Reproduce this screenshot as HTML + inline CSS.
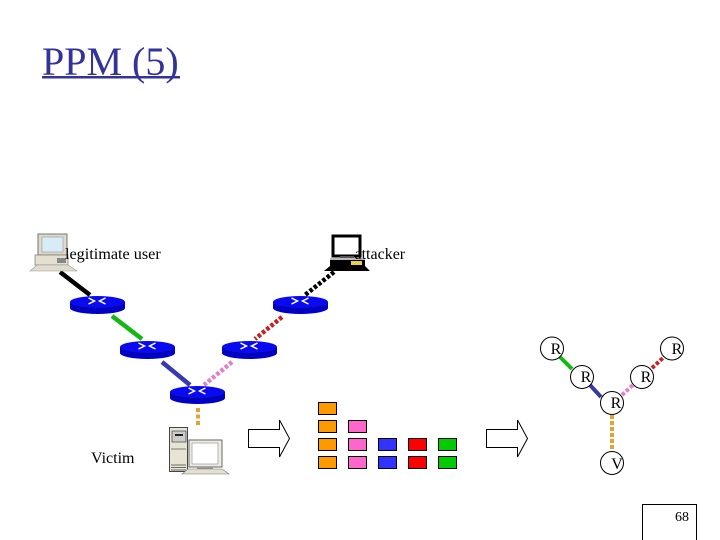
<!DOCTYPE html>
<html>
<head>
<meta charset="utf-8">
<style>
html,body{margin:0;padding:0;background:#fff;width:720px;height:540px;overflow:hidden}
svg{display:block}
text{font-family:"Liberation Serif",serif;fill:#000}
</style>
</head>
<body>
<svg width="720" height="540" viewBox="0 0 720 540" xmlns="http://www.w3.org/2000/svg">
<defs>
<g id="router">
<ellipse cx="0" cy="3" rx="27.5" ry="6" fill="#0000c8"/>
<rect x="-27.5" y="-3" width="55" height="6" fill="#0000c8"/>
<ellipse cx="0" cy="-3" rx="27.5" ry="6" fill="#0a0af0"/>
<path d="M-27 0 Q0 8 27 0" fill="none" stroke="#00009a" stroke-width="1"/>
<path d="M-9 -7 L-3 -4 L-9 -1 M8 -7 L2 -4 L8 -1" fill="none" stroke="#fff" stroke-width="1.5"/>
</g>
</defs>

<!-- title -->
<text x="42" y="75" font-size="40" style="fill:#333399">PPM (5)</text>
<rect x="42" y="76" width="138" height="2.5" fill="#333399"/>

<!-- links -->
<line x1="60" y1="272" x2="90" y2="295" stroke="#000" stroke-width="4.5"/>
<line x1="112" y1="316" x2="142" y2="339" stroke="#14b814" stroke-width="4.5"/>
<line x1="162" y1="362" x2="190" y2="385" stroke="#3838b0" stroke-width="4.5"/>
<line x1="334" y1="272" x2="305" y2="295" stroke="#000" stroke-width="4.5" stroke-dasharray="3.5 2"/>
<line x1="282" y1="317" x2="255" y2="339" stroke="#c82020" stroke-width="4.5" stroke-dasharray="3.5 2"/>
<line x1="232" y1="362" x2="204" y2="385" stroke="#e080c8" stroke-width="4.5" stroke-dasharray="3.5 2"/>
<line x1="198" y1="408" x2="198" y2="427" stroke="#e8a030" stroke-width="4" stroke-dasharray="4 2.5"/>

<!-- routers -->
<use href="#router" x="97.5" y="305"/>
<use href="#router" x="147.5" y="350"/>
<use href="#router" x="300.5" y="305"/>
<use href="#router" x="249.5" y="350"/>
<use href="#router" x="197.5" y="395"/>

<!-- legit computer -->
<rect x="38" y="234" width="29" height="21" fill="#ddd8c8" stroke="#777" stroke-width="1"/>
<rect x="42" y="237" width="21" height="15" fill="#d8ecf8" stroke="#888" stroke-width="0.5"/>
<rect x="35" y="255" width="33" height="10" fill="#e4e0d0" stroke="#777" stroke-width="0.7"/>
<rect x="57" y="258" width="9" height="5" fill="#888"/>
<path d="M37 265 L68 265 L77 271 L30 271 Z" fill="#e0dccc" stroke="#999" stroke-width="0.6"/>

<!-- attacker computer -->
<rect x="333" y="236" width="27" height="20" fill="#fff" stroke="#000" stroke-width="3"/>
<rect x="340" y="256" width="14" height="2" fill="#555"/>
<rect x="330" y="258" width="35" height="12" fill="#000"/>
<rect x="330" y="258" width="35" height="2" fill="#bbb"/>
<rect x="351" y="261" width="11" height="4" fill="#e8d040"/>
<path d="M330 266 L365 266 L370 271 L324 271 Z" fill="#000"/>

<!-- victim computer -->
<rect x="169.5" y="427.5" width="18" height="44" fill="#e8e4d4" stroke="#444" stroke-width="1"/>
<rect x="172" y="431" width="14" height="11" fill="#ccc" stroke="#444" stroke-width="0.7"/>
<rect x="175" y="434" width="8" height="2" fill="#222"/>
<line x1="171" y1="449" x2="186" y2="449" stroke="#777"/>
<path d="M171 465H186M171 467.500H186M171 470H186" stroke="#444" stroke-width="0.8"/>
<rect x="189" y="440" width="33" height="27" fill="#efece0" stroke="#666" stroke-width="1"/>
<rect x="192" y="443" width="26" height="21" fill="#fff" stroke="#888" stroke-width="0.6"/>
<rect x="197" y="467" width="16" height="2" fill="#999"/>
<path d="M188 469 L222 469 L229 474 L182 474 Z" fill="#e4e0d0" stroke="#777" stroke-width="0.6"/>

<!-- labels -->
<text x="65" y="259" font-size="16.200">legitimate user</text>
<text x="354.500" y="259" font-size="16">attacker</text>
<text x="91" y="463" font-size="16">Victim</text>

<!-- big arrows -->
<path d="M248.500 429.500 H279.500 V420 L289.500 438.500 L279.500 457 V447.500 H248.500 Z" fill="#fff" stroke="#000" stroke-width="1"/>
<path d="M486.500 429.500 H517.500 V420 L527.500 438.500 L517.500 457 V447.500 H486.500 Z" fill="#fff" stroke="#000" stroke-width="1"/>

<!-- packets -->
<g stroke="#000" stroke-width="1">
<rect x="318.500" y="402.500" width="18" height="12" fill="#ff9900"/>
<rect x="318.500" y="420.500" width="18" height="12" fill="#ff9900"/>
<rect x="318.500" y="438.500" width="18" height="12" fill="#ff9900"/>
<rect x="318.500" y="456.500" width="18" height="12" fill="#ff9900"/>
<rect x="348.500" y="420.500" width="18" height="12" fill="#ff66cc"/>
<rect x="348.500" y="438.500" width="18" height="12" fill="#ff66cc"/>
<rect x="348.500" y="456.500" width="18" height="12" fill="#ff66cc"/>
<rect x="378.500" y="438.500" width="18" height="12" fill="#3333ff"/>
<rect x="378.500" y="456.500" width="18" height="12" fill="#3333ff"/>
<rect x="408.500" y="438.500" width="18" height="12" fill="#ff0000"/>
<rect x="408.500" y="456.500" width="18" height="12" fill="#ff0000"/>
<rect x="438.500" y="438.500" width="18" height="12" fill="#00cc00"/>
<rect x="438.500" y="456.500" width="18" height="12" fill="#00cc00"/>
</g>

<!-- reconstructed tree links -->
<line x1="560" y1="357" x2="572" y2="369" stroke="#14b814" stroke-width="4"/>
<line x1="590" y1="385" x2="601" y2="397" stroke="#3838a0" stroke-width="4"/>
<line x1="622" y1="395" x2="634" y2="384" stroke="#e080c8" stroke-width="4" stroke-dasharray="3.500 2"/>
<line x1="652" y1="368" x2="664" y2="357" stroke="#c82020" stroke-width="4" stroke-dasharray="3.500 2"/>
<line x1="612" y1="415" x2="612" y2="449" stroke="#e8a030" stroke-width="4" stroke-dasharray="4 2"/>

<!-- tree nodes -->
<g fill="none" stroke="#000" stroke-width="1">
<circle cx="552" cy="348.500" r="11.500"/>
<circle cx="582" cy="377" r="11.500"/>
<circle cx="612" cy="403" r="11.500"/>
<circle cx="642" cy="377" r="11.500"/>
<circle cx="672" cy="348.500" r="11.500"/>
<circle cx="612" cy="463" r="11.500"/>
</g>
<g font-size="16" text-anchor="middle">
<text x="556" y="354">R</text>
<text x="586" y="382">R</text>
<text x="616" y="408">R</text>
<text x="646" y="382">R</text>
<text x="677" y="354">R</text>
<text x="617" y="469">V</text>
</g>

<!-- page number -->
<path d="M642.500 540 V504.500 H696.500 V540" fill="none" stroke="#000" stroke-width="1"/>
<text x="675" y="521" font-size="14">68</text>
</svg>
</body>
</html>
